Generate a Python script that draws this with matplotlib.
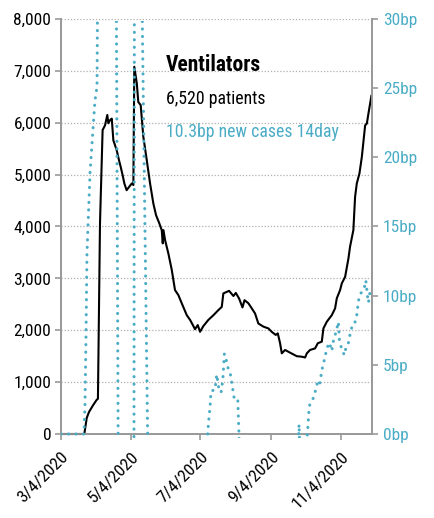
import matplotlib
matplotlib.use('Agg')
import matplotlib.pyplot as plt
from matplotlib import font_manager
from matplotlib.patches import Rectangle
import pandas as pd

# font: condensed look if available
def pick_font():
    for name in ['Roboto Condensed', 'Liberation Sans Narrow', 'DejaVu Sans Condensed']:
        try:
            font_manager.findfont(name, fallback_to_default=False)
            return name
        except Exception:
            pass
    return 'Liberation Sans'

FONT = pick_font()
plt.rcParams['font.family'] = [FONT, 'DejaVu Sans']

start = pd.Timestamp('2020-03-04')
end = pd.Timestamp('2020-12-01')

# ventilator patients, day offsets from 3/4/2020
vent_day = [0, 20.4, 22.5, 24.5, 28.2, 31.1, 32.3, 34.1, 36.4, 38.5, 40.5, 41.4, 42.9, 44.4,
            45.8, 47.2, 48.7, 50.7, 52.2, 53.9, 55.4, 57.4, 59.8, 61.9, 63.3, 64.1, 66.3,
            67.6, 69.7, 72, 75, 77.9, 80.8, 83.1, 86, 88.1, 89, 89.6, 91, 93.9, 96.9, 99.7,
            102.6, 105.6, 110, 112.9, 115.8, 117.2, 119.6, 121.6, 124.5, 128.9, 133.3, 137.7,
            140.6, 142, 147, 150.8, 152.9, 155.8, 158.7, 160.5, 163.9, 166.9, 169.7, 172.6,
            177, 181.4, 184.3, 187.8, 189.6, 191.6, 193.1, 196, 198.9, 203.2, 206.2, 210.6,
            213.5, 215, 217.8, 222.2, 224.6, 228.1, 229.5, 232.5, 236.8, 239.7, 241.2, 244.1,
            245.6, 248.5, 251.4, 252.8, 255.7, 257.2, 258.7, 261, 263.1, 266, 267.5, 268.9,
            271.5]
vent_val = [0, 0, 310, 425, 560, 655, 680, 4060, 5860, 5950, 6150, 5990, 6050, 6080,
            5660, 5570, 5470, 5280, 5150, 4990, 4830, 4700, 4770, 4830, 4800, 7080, 6760,
            6400, 6340, 5730, 5280, 4830, 4440, 4220, 4060, 3930, 3675, 3930, 3740, 3480, 3160,
            2775, 2680, 2520, 2290, 2200, 2080, 2020, 2100, 1970, 2080, 2200, 2290, 2390,
            2450, 2710, 2760, 2660, 2720, 2610, 2440, 2580, 2520, 2420, 2325, 2130,
            2070, 2035, 1970, 1910, 1940, 1750, 1555, 1620, 1585, 1535, 1500, 1490,
            1475, 1555, 1620, 1650, 1750, 1780, 2035, 2165, 2290, 2420, 2615, 2775,
            2904, 3031, 3385, 3610, 3930, 4570, 4830, 5020, 5340, 5950, 5985, 6180,
            6520]

# new cases 14 day (bp), day offsets from 3/4/2020
case_day = [0, 20.1, 21, 21.9, 22.7, 25.4, 29.7, 31.5, 33, 47.5, 50.2, 63.5, 64.5, 70, 77,
            127, 128.3, 129, 130.4, 131.2, 134.7, 136.2, 138.2, 140, 141.5, 142.9, 144.4,
            146, 148, 150.7, 151.6, 154.6, 156.5, 207.5, 208.2, 208.8, 214.5, 215.5, 217.1,
            218.5, 220.7, 222.8, 224.2, 226, 227.2, 228.1, 231, 232.5, 234.7, 236.8, 238.2,
            240.6, 242.6, 243.5, 245.6, 247.9, 249.3, 251.4, 252.8, 255.2, 257.2, 258.7,
            260.1, 261.6, 265.1, 266.6, 268, 268.9, 270.3]
case_val = [0, 0, 2.2, 7.3, 13, 18.9, 24.1, 25.1, 45, 50, -5, -30, 60, 37, -8,
            -2, 0, 0.8, 2, 3.1, 3.2, 4.3, 3.2, 3.0, 3.9, 5.8, 5.4,
            4.8, 4.4, 3.0, 2.5, 2.5, -2, -1, 0.7, -1, -1, 0, 2.0,
            2.3, 2.6, 3.2, 3.7, 3.5, 4.1, 4.6, 5.6, 6.2, 6.6, 6.0, 6.7,
            7.4, 8.1, 6.8, 6.1, 5.7, 6.3, 6.6, 7.2, 8.0, 8.1, 8.6,
            9.6, 10.1, 10.5, 11.1, 10.0, 9.5, 10.3]

xtick_dates = ['2020-03-04', '2020-05-04', '2020-07-04', '2020-09-04', '2020-11-04']
xtick_labels = ['3/4/2020', '5/4/2020', '7/4/2020', '9/4/2020', '11/4/2020']
left_ticks = [0, 1000, 2000, 3000, 4000, 5000, 6000, 7000, 8000]
right_ticks = [0, 5, 10, 15, 20, 25, 30]

title = 'Ventilators'
line1 = '6,520 patients'
line2 = '10.3bp new cases 14day'

TEAL = '#4BACC6'
GRAY = '#9a9a9a'

vent_x = start + pd.to_timedelta(vent_day, unit='D')
case_x = start + pd.to_timedelta(case_day, unit='D')

fig = plt.figure(figsize=(4.35, 5.18), dpi=100)
ax = fig.add_axes([61 / 435, 84 / 518, 311 / 435, 415 / 518])
ax2 = ax.twinx()

l1, = ax.plot(vent_x, vent_val, color='black', lw=1.5, zorder=3)
l2, = ax2.plot(case_x, case_val, color=TEAL, lw=2.2, linestyle=(0, (0.05, 2.4)),
               dash_capstyle='round', zorder=3)
# let the zero values show fully on the bottom edge
for ln, a in ((l1, ax), (l2, ax2)):
    ln.set_clip_path(Rectangle((0, -0.01), 1, 1.005, transform=a.transAxes))

ax.set_xlim(start, end)
ax.set_ylim(0, 8000)
ax2.set_ylim(0, 30)

ax.set_yticks(left_ticks)
ax.set_yticklabels(['{:,}'.format(v) for v in left_ticks], fontsize=12.5)
ax2.set_yticks(right_ticks)
ax2.set_yticklabels(['{}bp'.format(v) for v in right_ticks], fontsize=12.5, color=TEAL)

ax.set_xticks(pd.to_datetime(xtick_dates))
ax.set_xticklabels(xtick_labels, fontsize=12.5, rotation=45, ha='right',
                   rotation_mode='anchor')

ax.grid(axis='y', linestyle=(0, (1, 1.5)), color='#b0b0b0', lw=0.9)
ax.set_axisbelow(True)

for a in (ax, ax2):
    a.spines['top'].set_visible(False)
    for s in ('left', 'right', 'bottom'):
        a.spines[s].set_color(GRAY)
        a.spines[s].set_linewidth(1.3)
    a.tick_params(color=GRAY, length=4, width=1.2)
ax.tick_params(axis='x', pad=7)
ax.tick_params(axis='y', pad=3)
ax2.tick_params(axis='y', pad=4)

ax.text(0.338, 0.875, title, transform=ax.transAxes, fontsize=15.5, fontweight='bold',
        va='baseline', ha='left')
ax.text(0.338, 0.795, line1, transform=ax.transAxes, fontsize=12.8, va='baseline', ha='left')
ax.text(0.338, 0.716, line2, transform=ax.transAxes, fontsize=12.8, va='baseline', ha='left',
        color=TEAL)

fig.savefig('out.png', dpi=100)
